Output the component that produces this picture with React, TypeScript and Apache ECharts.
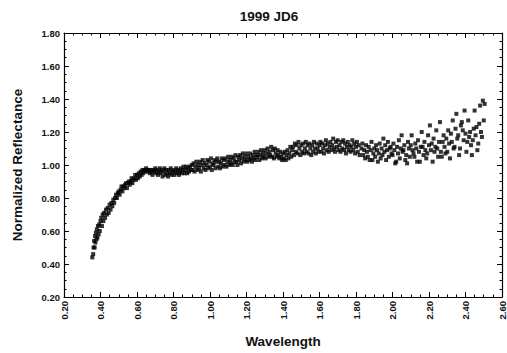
import React, { useEffect, useRef } from "react";
import * as echarts from "echarts";

const title = "1999 JD6";
const xName = "Wavelength";
const yName = "Normalized Reflectance";
const xTicks = { min: 0.2, max: 2.6, step: 0.2 };
const yTicks = { min: 0.2, max: 1.8, step: 0.2 };

// [wavelength, normalized reflectance]
const visibleRise: number[][] = [
  [0.355, 0.44], [0.36, 0.46], [0.362, 0.5], [0.365, 0.54], [0.368, 0.5], [0.37, 0.57],
  [0.372, 0.53], [0.375, 0.59], [0.378, 0.55], [0.38, 0.61], [0.383, 0.56], [0.386, 0.63],
  [0.39, 0.58], [0.393, 0.64], [0.396, 0.6], [0.4, 0.66], [0.404, 0.68], [0.408, 0.63],
  [0.412, 0.7], [0.416, 0.66], [0.42, 0.71], [0.425, 0.68], [0.43, 0.73], [0.435, 0.7],
  [0.44, 0.74], [0.445, 0.71], [0.45, 0.76], [0.455, 0.73], [0.46, 0.77], [0.465, 0.75],
  [0.47, 0.79], [0.475, 0.77], [0.48, 0.8], [0.485, 0.82], [0.49, 0.8], [0.495, 0.83],
  [0.5, 0.84], [0.505, 0.82], [0.51, 0.85], [0.515, 0.87], [0.52, 0.84], [0.525, 0.87],
  [0.53, 0.86], [0.535, 0.88], [0.54, 0.89], [0.545, 0.86], [0.55, 0.89], [0.555, 0.9],
  [0.56, 0.88], [0.565, 0.9], [0.57, 0.92], [0.575, 0.89], [0.58, 0.91], [0.585, 0.92],
  [0.59, 0.94], [0.595, 0.91], [0.6, 0.94], [0.605, 0.92], [0.61, 0.95], [0.615, 0.93],
  [0.62, 0.96], [0.625, 0.94], [0.63, 0.97], [0.635, 0.95], [0.64, 0.97], [0.645, 0.96],
  [0.65, 0.98], [0.655, 0.97], [0.66, 0.96],
];

const visiblePlateau: number[][] = [
  [0.665, 0.97], [0.67, 0.95], [0.675, 0.97], [0.68, 0.96], [0.685, 0.94], [0.69, 0.97],
  [0.695, 0.96], [0.7, 0.98], [0.705, 0.95], [0.71, 0.97], [0.715, 0.94], [0.72, 0.96],
  [0.725, 0.98], [0.73, 0.95], [0.735, 0.97], [0.74, 0.93], [0.745, 0.96], [0.75, 0.98],
  [0.755, 0.94], [0.76, 0.97], [0.765, 0.95], [0.77, 0.93], [0.775, 0.97], [0.78, 0.95],
  [0.785, 0.98], [0.79, 0.94], [0.795, 0.96], [0.8, 0.97], [0.805, 0.94], [0.81, 0.96],
  [0.815, 0.98], [0.82, 0.95], [0.825, 0.97], [0.83, 0.94], [0.835, 0.96], [0.84, 0.98],
  [0.845, 0.95], [0.85, 0.97], [0.855, 0.99], [0.86, 0.95], [0.865, 0.97], [0.87, 0.99],
  [0.875, 0.95], [0.88, 0.98], [0.885, 0.96], [0.89, 0.99], [0.895, 0.97], [0.9, 1.0],
];

const nirSlope: number[][] = [
  [0.905, 0.97], [0.91, 1.01], [0.915, 0.96], [0.92, 0.99], [0.925, 1.02], [0.93, 0.97],
  [0.935, 1.0], [0.94, 0.98], [0.945, 1.02], [0.95, 0.96], [0.955, 1.0], [0.96, 1.03],
  [0.965, 0.98], [0.97, 1.01], [0.975, 0.97], [0.98, 1.0], [0.985, 1.03], [0.99, 0.98],
  [0.995, 1.02], [1.0, 0.99], [1.005, 1.04], [1.01, 0.97], [1.015, 1.01], [1.02, 1.0],
  [1.025, 1.03], [1.03, 0.98], [1.035, 1.02], [1.04, 1.04], [1.045, 0.99], [1.05, 1.02],
  [1.055, 0.98], [1.06, 1.01], [1.065, 1.04], [1.07, 0.99], [1.075, 1.03], [1.08, 1.0],
  [1.085, 1.04], [1.09, 0.99], [1.095, 1.02], [1.1, 1.05], [1.105, 1.0], [1.11, 1.03],
  [1.115, 1.01], [1.12, 1.05], [1.125, 1.0], [1.13, 1.04], [1.135, 1.02], [1.14, 1.06],
  [1.145, 1.02], [1.15, 1.0], [1.155, 1.05], [1.16, 1.03], [1.165, 1.06], [1.17, 1.01],
  [1.175, 1.04], [1.18, 1.07], [1.185, 1.02], [1.19, 1.05], [1.195, 1.03], [1.2, 1.07],
  [1.205, 1.02], [1.21, 1.05], [1.215, 1.03], [1.22, 1.07], [1.225, 1.04], [1.23, 1.02],
  [1.235, 1.06], [1.24, 1.04], [1.245, 1.08], [1.25, 1.03], [1.255, 1.06], [1.26, 1.05],
  [1.265, 1.08], [1.27, 1.03], [1.275, 1.06], [1.28, 1.09], [1.285, 1.04], [1.29, 1.07],
  [1.295, 1.05], [1.3, 1.09], [1.305, 1.04], [1.31, 1.07], [1.315, 1.1], [1.32, 1.05],
  [1.325, 1.08], [1.33, 1.06], [1.335, 1.11], [1.34, 1.05], [1.345, 1.09], [1.35, 1.04],
  [1.355, 1.1], [1.36, 1.07], [1.365, 1.05], [1.37, 1.09], [1.375, 1.06], [1.38, 1.04],
  [1.385, 1.08], [1.39, 1.05], [1.395, 1.03], [1.4, 1.07], [1.405, 1.04], [1.41, 1.08],
  [1.415, 1.03], [1.42, 1.06], [1.425, 1.09], [1.43, 1.04], [1.435, 1.07], [1.44, 1.11],
  [1.445, 1.05], [1.45, 1.09],
];

const nirBand: number[][] = [
  [1.455, 1.11], [1.46, 1.06], [1.465, 1.13], [1.47, 1.08], [1.475, 1.12], [1.48, 1.07],
  [1.485, 1.14], [1.49, 1.1], [1.495, 1.06], [1.5, 1.12], [1.505, 1.08], [1.51, 1.13],
  [1.515, 1.07], [1.52, 1.1], [1.525, 1.14], [1.53, 1.08], [1.535, 1.12], [1.54, 1.07],
  [1.545, 1.13], [1.55, 1.1], [1.555, 1.06], [1.56, 1.12], [1.565, 1.08], [1.57, 1.14],
  [1.575, 1.1], [1.58, 1.07], [1.585, 1.13], [1.59, 1.1], [1.595, 1.08], [1.6, 1.12],
  [1.605, 1.14], [1.61, 1.08], [1.615, 1.13], [1.62, 1.1], [1.625, 1.07], [1.63, 1.12],
  [1.635, 1.15], [1.64, 1.09], [1.645, 1.13], [1.65, 1.08], [1.655, 1.11], [1.66, 1.14],
  [1.665, 1.09], [1.67, 1.12], [1.675, 1.16], [1.68, 1.1], [1.685, 1.08], [1.69, 1.14],
  [1.695, 1.11], [1.7, 1.15], [1.705, 1.09], [1.71, 1.12], [1.715, 1.08], [1.72, 1.14],
  [1.725, 1.1], [1.73, 1.15], [1.735, 1.09], [1.74, 1.13], [1.745, 1.07], [1.75, 1.11],
  [1.755, 1.14], [1.76, 1.09], [1.765, 1.12], [1.77, 1.08], [1.775, 1.11], [1.78, 1.15],
  [1.785, 1.09], [1.79, 1.13], [1.795, 1.07], [1.8, 1.11], [1.805, 1.14], [1.81, 1.08],
  [1.815, 1.12], [1.82, 1.06],
];

const nirScatter: number[][] = [
  [1.83, 1.1], [1.835, 1.13], [1.84, 1.06], [1.845, 1.09], [1.85, 1.04], [1.855, 1.12],
  [1.86, 1.08], [1.865, 1.05], [1.87, 1.11], [1.875, 1.03], [1.88, 1.09], [1.885, 1.14],
  [1.89, 1.03], [1.895, 1.07], [1.9, 1.1], [1.905, 1.05], [1.91, 1.12], [1.915, 1.09],
  [1.92, 1.02], [1.925, 1.07], [1.93, 1.13], [1.935, 1.04], [1.94, 1.1], [1.945, 1.06],
  [1.95, 1.16], [1.955, 1.08], [1.96, 1.12], [1.965, 1.03], [1.97, 1.09], [1.975, 1.14],
  [1.98, 1.05], [1.985, 1.1], [1.99, 1.11], [1.995, 1.07], [2.0, 1.06], [2.005, 1.13],
  [2.01, 1.09], [2.015, 1.01], [2.02, 1.02], [2.025, 1.11], [2.03, 1.07], [2.035, 1.15],
  [2.04, 1.04], [2.045, 1.1], [2.05, 1.18], [2.055, 1.08], [2.06, 1.09], [2.065, 1.12],
  [2.07, 1.03], [2.075, 1.06], [2.08, 1.01], [2.085, 1.14], [2.09, 1.1], [2.095, 1.05],
  [2.1, 1.12], [2.105, 1.18], [2.11, 1.09], [2.115, 1.07], [2.12, 1.05], [2.125, 1.13],
  [2.13, 1.1], [2.135, 1.02], [2.14, 1.15], [2.145, 1.08], [2.15, 1.02], [2.155, 1.11],
  [2.16, 1.2], [2.165, 1.11], [2.17, 1.06], [2.175, 1.14], [2.18, 1.09], [2.185, 1.04],
  [2.19, 1.07], [2.195, 1.18], [2.2, 1.12], [2.205, 1.24], [2.21, 1.09], [2.215, 1.13],
  [2.22, 1.02], [2.225, 1.16], [2.23, 1.08], [2.235, 1.11], [2.24, 1.21], [2.245, 1.1],
  [2.25, 1.05], [2.255, 1.14], [2.26, 1.26], [2.265, 1.08], [2.27, 1.05], [2.275, 1.14],
  [2.28, 1.18], [2.285, 1.11], [2.29, 1.07], [2.295, 1.16], [2.3, 1.08], [2.305, 1.21],
  [2.31, 1.13], [2.315, 1.04], [2.32, 1.19], [2.325, 1.14], [2.33, 1.27], [2.335, 1.1],
  [2.34, 1.11], [2.345, 1.22], [2.35, 1.31], [2.355, 1.16], [2.36, 1.18], [2.365, 1.06],
  [2.37, 1.1], [2.375, 1.24], [2.38, 1.26], [2.385, 1.21], [2.39, 1.15], [2.395, 1.33],
  [2.4, 1.19], [2.405, 1.08], [2.41, 1.14], [2.415, 1.27], [2.42, 1.17], [2.425, 1.2],
  [2.43, 1.12], [2.435, 1.06], [2.44, 1.15], [2.445, 1.22], [2.45, 1.33], [2.455, 1.18],
  [2.46, 1.23], [2.465, 1.09], [2.47, 1.13], [2.475, 1.25], [2.48, 1.36], [2.485, 1.2],
  [2.49, 1.17], [2.495, 1.39], [2.5, 1.27], [2.505, 1.37],
];

const FONT = "'Liberation Sans', Arial, sans-serif";
const INK = "#111";

export default function App() {
  const ref = useRef<HTMLDivElement>(null);
  useEffect(() => {
    if (!ref.current) return;
    const chart = echarts.init(ref.current, null, { renderer: "svg" });
    const allPoints = [...visibleRise, ...visiblePlateau, ...nirSlope, ...nirBand, ...nirScatter];
    const fmt = (v: number) => v.toFixed(2);
    const axisCommon = {
      type: "value" as const,
      axisLine: { show: true, onZero: false, lineStyle: { color: "#000", width: 1.2 } },
      axisTick: { show: true, inside: true, length: 5, lineStyle: { color: "#000", width: 1 } },
      minorTick: { show: true, splitNumber: 4, length: 2.5, lineStyle: { color: "#000", width: 1 } },
      splitLine: { show: false },
    };
    const labelStyle = { fontFamily: FONT, fontWeight: "bold", fontSize: 9.5, color: INK };
    const nameStyle = { fontFamily: FONT, fontWeight: "bold", fontSize: 13.5, color: INK };
    chart.setOption({
      animation: false,
      backgroundColor: "#fff",
      title: {
        text: title,
        left: 264,
        top: 4,
        textAlign: "center",
        textStyle: nameStyle,
      },
      grid: { left: 64, right: 5, top: 33, bottom: 50, containLabel: false },
      xAxis: [
        {
          ...axisCommon,
          position: "bottom",
          min: xTicks.min,
          max: xTicks.max,
          interval: xTicks.step,
          name: xName,
          nameLocation: "middle",
          nameGap: 37,
          nameTextStyle: nameStyle,
          axisLabel: { rotate: 90, margin: 4, formatter: fmt, ...labelStyle },
        },
        {
          ...axisCommon,
          position: "top",
          min: xTicks.min,
          max: xTicks.max,
          interval: xTicks.step,
          axisLabel: { show: false },
        },
      ],
      yAxis: [
        {
          ...axisCommon,
          position: "left",
          min: yTicks.min,
          max: yTicks.max,
          interval: yTicks.step,
          name: yName,
          nameLocation: "middle",
          nameGap: 40,
          nameTextStyle: nameStyle,
          axisLabel: { margin: 4, formatter: fmt, ...labelStyle },
        },
        {
          ...axisCommon,
          position: "right",
          min: yTicks.min,
          max: yTicks.max,
          interval: yTicks.step,
          axisLabel: { show: false },
        },
      ],
      series: [
        {
          type: "scatter",
          data: allPoints,
          symbol: "rect",
          symbolSize: 4,
          itemStyle: { color: "#000" },
        },
      ],
    });
    return () => chart.dispose();
  }, []);
  return (
    <div
      ref={ref}
      style={{ position: "fixed", left: 0, top: 0, width: 507, height: 353, background: "#fff" }}
    />
  );
}
